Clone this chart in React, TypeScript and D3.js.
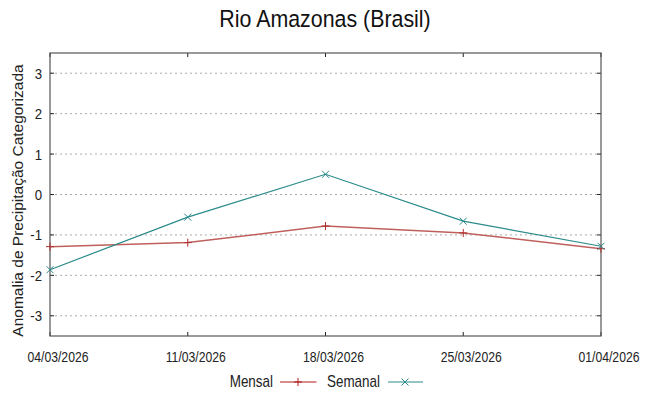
import React from "react";
import * as d3 from "d3";

const dates = ["04/03/2026", "11/03/2026", "18/03/2026", "25/03/2026", "01/04/2026"];
const mensal = [-1.29, -1.19, -0.78, -0.95, -1.34];
const semanal = [-1.86, -0.56, 0.5, -0.66, -1.28];
const yTicks = [-3, -2, -1, 0, 1, 2, 3];

const W = 649, H = 396;
const L = 50, R = 601, T = 53, B = 336;
const FONT = "'Liberation Sans', Arial, sans-serif";
const RED = "#c0605c";
const TEAL = "#2a8a8a";

function CText(props: { x: number; y: number; sx: number; size: number; anchor: string; children: React.ReactNode }) {
  return (
    <text
      transform={`translate(${props.x},${props.y}) scale(${props.sx},1)`}
      textAnchor={props.anchor}
      fontSize={props.size}
      fill="#222"
    >
      {props.children}
    </text>
  );
}

export default function App() {
  const x = d3.scalePoint<string>().domain(dates).range([L, R]);
  const y = d3.scaleLinear().domain([-3.5, 3.5]).range([B, T]);
  const line = d3.line<number>().x((_, i) => x(dates[i])!).y((d) => y(d));

  const plus = (cx: number, cy: number, c: string, k: string) => (
    <g key={k} stroke={c} strokeWidth={1}>
      <line x1={cx - 4} x2={cx + 4} y1={cy} y2={cy} />
      <line x1={cx} x2={cx} y1={cy - 4} y2={cy + 4} />
    </g>
  );
  const cross = (cx: number, cy: number, c: string, k: string) => (
    <g key={k} stroke={c} strokeWidth={1}>
      <line x1={cx - 3.5} x2={cx + 3.5} y1={cy - 3.5} y2={cy + 3.5} />
      <line x1={cx - 3.5} x2={cx + 3.5} y1={cy + 3.5} y2={cy - 3.5} />
    </g>
  );

  return (
    <svg width={W} height={H} style={{ position: "absolute", left: 0, top: 0, background: "#fff" }} fontFamily={FONT}>
      <rect width={W} height={H} fill="#fff" />
      <text transform="translate(325,27) scale(0.91,1)" textAnchor="middle" fontSize={23.5} fill="#111">Rio Amazonas (Brasil)</text>
      {yTicks.map((t) => (
        <g key={t}>
          <line x1={L} x2={R} y1={y(t)} y2={y(t)} stroke="#aaa" strokeWidth={1} strokeDasharray="2,3" />
          <line x1={L} x2={L + 4} y1={y(t)} y2={y(t)} stroke="#222" />
          <line x1={R - 4} x2={R} y1={y(t)} y2={y(t)} stroke="#222" />
          <CText x={42} y={y(t) + 5.5} sx={0.88} size={15} anchor="end">{t}</CText>
        </g>
      ))}
      {dates.map((d) => (
        <g key={d}>
          <line x1={x(d)} x2={x(d)} y1={B} y2={B - 4} stroke="#222" />
          <line x1={x(d)} x2={x(d)} y1={T} y2={T + 4} stroke="#222" />
          <CText x={x(d)! + 8} y={361.7} sx={0.87} size={14} anchor="middle">{d}</CText>
        </g>
      ))}
      <rect x={L} y={T} width={R - L} height={B - T} fill="none" stroke="#555" strokeWidth={1.2} />
      <text transform={`translate(23,${(T + B) / 2 + 6}) rotate(-90)`} textAnchor="middle" fontSize={15.5} fill="#222">Anomalia de Precipitação Categorizada</text>
      <path d={line(mensal)!} fill="none" stroke={RED} strokeWidth={1.5} />
      <path d={line(semanal)!} fill="none" stroke={TEAL} strokeWidth={1.2} />
      {mensal.map((v, i) => plus(x(dates[i])!, y(v), "#b03030", "m" + i))}
      {semanal.map((v, i) => cross(x(dates[i])!, y(v), TEAL, "s" + i))}
      <CText x={273} y={386.7} sx={0.84} size={16} anchor="end">Mensal</CText>
      <line x1={280} x2={316.5} y1={382} y2={382} stroke="#b01818" strokeWidth={1} />
      {plus(298, 382, "#b01818", "lm")}
      <CText x={380} y={386.7} sx={0.84} size={16} anchor="end">Semanal</CText>
      <line x1={388} x2={423} y1={382} y2={382} stroke={TEAL} strokeWidth={1} />
      {cross(405, 382, TEAL, "ls")}
    </svg>
  );
}
